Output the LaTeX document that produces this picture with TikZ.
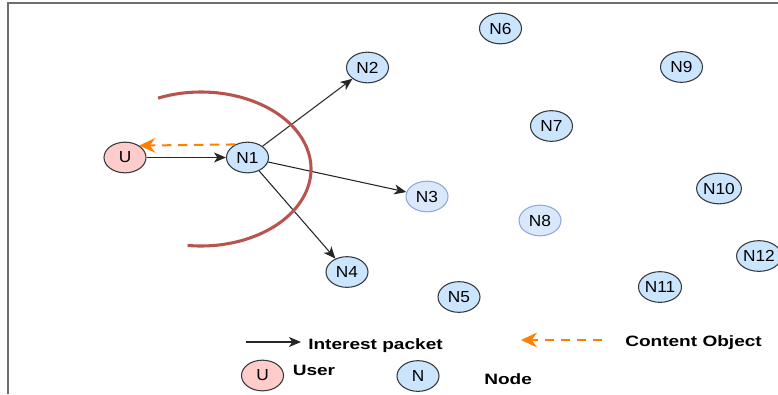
\documentclass[tikz,border=0pt]{standalone}
\usepackage{fontspec}
\setmainfont{Liberation Sans}
\newfontfamily\nodefont[FakeStretch=1.08]{Liberation Sans}
\newfontfamily\legfont[FakeStretch=1.27]{Liberation Sans}
\usetikzlibrary{shapes.geometric,arrows.meta}
\definecolor{ndfill}{HTML}{CCE5FF}
\definecolor{ndline}{HTML}{36393D}
\definecolor{ltfill}{HTML}{DAE8FC}
\definecolor{ltline}{HTML}{8FAADC}
\definecolor{usrfill}{HTML}{FFCCCC}
\definecolor{arcred}{HTML}{B85450}
\definecolor{cobj}{HTML}{FF8000}
\definecolor{framegray}{HTML}{6E6E6E}

\begin{document}
\begin{tikzpicture}[x=0.75pt,y=-0.75pt,
    nd/.style={ellipse, draw=ndline, fill=ndfill, line width=0.8pt, minimum width=31.5pt, minimum height=23pt, inner sep=0pt, font=\nodefont\fontsize{12}{14}\selectfont},
    ndlt/.style={nd, draw=ltline, fill=ltfill},
    usr/.style={nd, fill=usrfill},
    interest/.style={->, >={Stealth[length=9pt,width=7.5pt,inset=2.5pt]}, line width=0.8pt, draw=black!85},
    content/.style={->, >={Stealth[length=12pt,width=11pt,inset=4pt]}, draw=cobj, line width=1.5pt, dash pattern=on 7pt off 5pt},
    leg/.style={anchor=base west, inner sep=0pt, font=\legfont\fontsize{11.25}{13}\selectfont\bfseries}]
        \useasboundingbox (0,0) rectangle (778,394);
        \draw[framegray, line width=1.2pt] (8,394) -- (8,3) -- (778,3);

        %%%%%%%%%% Nodes %%%%%%%%%%
        \node[usr]  (U)   at (125,157.5) {U};
        \node[nd]   (N1)  at (247.5,157.5) {N1};
        \node[nd]   (N2)  at (367.5,67.5) {N2};
        \node[ndlt] (N3)  at (427,196.5) {N3};
        \node[nd]   (N4)  at (347,272) {N4};
        \node[nd]   (N5)  at (459,297) {N5};
        \node[nd]   (N6)  at (500.5,28.5) {N6};
        \node[nd]   (N7)  at (551.5,126) {N7};
        \node[ndlt] (N8)  at (540,220.5) {N8};
        \node[nd]   (N9)  at (681.5,67) {N9};
        \node[nd]   (N10) at (719,188.5) {N10};
        \node[nd]   (N11) at (660,287) {N11};
        \node[nd]   (N12) at (759,256) {N12};

        %%%%%%%%%% Edges %%%%%%%%%%
        \draw[interest] (U) -- (N1);
        \draw[content] (N1.133) -- (U.40);
        \draw[interest] (N1) -- (N2);
        \draw[interest] (N1) -- (N3);
        \draw[interest] (N1) -- (N4);

        %%%%%%%%%% Range %%%%%%%%%%
        \draw[arcred, line width=2.3pt] ([shift={(-113:110 and 77)}]201,169) arc[start angle=-113, end angle=97, x radius=110, y radius=77];

        %%%%%%%%%% Legend %%%%%%%%%%
        \coordinate (ip1) at (246,342);
        \coordinate (ip2) at (301,342);
        \draw[interest] (ip1) -- (ip2);
        \node[leg] (ipText) at (308,349) {Interest packet};
        \coordinate (co1) at (602,340);
        \coordinate (co2) at (521,340);
        \draw[content] (co1) -- (co2);
        \node[leg] (coText) at (625,346.5) {Content Object};
        \node[usr] (legU) at (262.5,375.5) {U};
        \node[leg] (usrText) at (292.5,375) {User};
        \node[nd] (legN) at (418,376) {N};
        \node[leg] (ndText) at (484,384) {Node};
    \end{tikzpicture}
\end{document}
